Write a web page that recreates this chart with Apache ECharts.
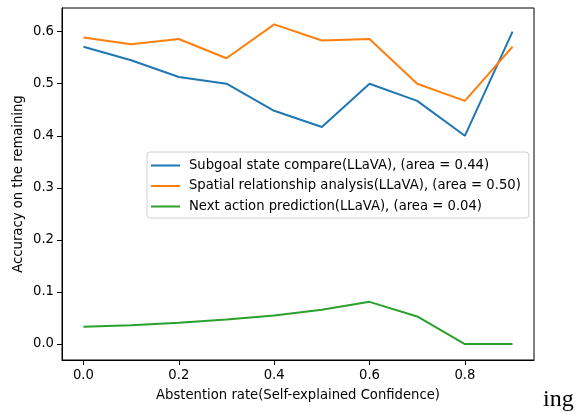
<!DOCTYPE html>
<html><head><meta charset="utf-8">
<script src="https://cdn.jsdelivr.net/npm/echarts@6/dist/echarts.min.js"></script>
<style>html,body{margin:0;padding:0;background:#fff}#c{width:582px;height:412px}</style>
</head><body><div id="c"></div>
<script>
const xValues = [0.0, 0.1, 0.2, 0.3, 0.4, 0.5, 0.6, 0.7, 0.8, 0.9];
const subgoal = [0.571, 0.545, 0.513, 0.500, 0.448, 0.417, 0.500, 0.467, 0.400, 0.600];
const spatial = [0.589, 0.576, 0.586, 0.549, 0.614, 0.583, 0.586, 0.500, 0.467, 0.571];
const nextAction = [0.033, 0.036, 0.041, 0.047, 0.055, 0.066, 0.081, 0.053, 0.000, 0.000];
const xTicks = [0.0, 0.2, 0.4, 0.6, 0.8];
const yTicks = [0.0, 0.1, 0.2, 0.3, 0.4, 0.5, 0.6];
const seriesNames = [
  'Subgoal state compare(LLaVA), (area = 0.44)',
  'Spatial relationship analysis(LLaVA), (area = 0.50)',
  'Next action prediction(LLaVA), (area = 0.04)'
];
const colors = ['#1f77b4', '#ff7f0e', '#2ca02c'];
const FONT = 'DejaVu Sans';
const FS = 13.2;

function pairs(ys) { return xValues.map((x, i) => [x, ys[i]]); }

const chart = echarts.init(document.getElementById('c'), null, {renderer: 'canvas'});
chart.setOption({
  animation: false,
  backgroundColor: '#fff',
  color: colors,
  grid: {left: 62, right: 48, top: 8, bottom: 52, show: true, borderColor: '#000', borderWidth: 1, backgroundColor: 'transparent'},
  xAxis: {
    type: 'value', min: -0.045, max: 0.945,
    name: 'Abstention rate(Self-explained Confidence)', nameLocation: 'middle', nameGap: 29,
    nameTextStyle: {fontFamily: FONT, fontSize: FS, color: '#000'},
    axisLine: {show: true, onZero: false, lineStyle: {color: '#000', width: 1}},
    axisTick: {show: true, inside: false, length: 5, lineStyle: {color: '#000'}, customValues: xTicks},
    axisLabel: {fontFamily: FONT, fontSize: FS, color: '#000', margin: 9, customValues: xTicks, formatter: v => v.toFixed(1)},
    splitLine: {show: false}
  },
  yAxis: {
    type: 'value', min: -0.0307, max: 0.6455,
    name: 'Accuracy on the remaining', nameLocation: 'middle', nameGap: 37, nameRotate: 90,
    nameMoveOverlap: false,
    nameTextStyle: {fontFamily: FONT, fontSize: FS, color: '#000'},
    axisLine: {show: true, onZero: false, lineStyle: {color: '#000', width: 1}},
    axisTick: {show: true, inside: false, length: 5, lineStyle: {color: '#000'}, customValues: yTicks},
    axisLabel: {fontFamily: FONT, fontSize: FS, color: '#000', margin: 8, customValues: yTicks, formatter: v => v.toFixed(1)},
    splitLine: {show: false}
  },
  legend: {
    orient: 'vertical', left: 147, top: 152,
    padding: [7, 8, 5, 4], itemGap: 7.5,
    backgroundColor: '#fff', borderColor: '#d0d0d0', borderWidth: 1, borderRadius: 3,
    icon: 'rect', itemWidth: 29, itemHeight: 2,
    textStyle: {fontFamily: FONT, fontSize: FS, color: '#000', padding: [0, 0, 0, 4]},
    data: seriesNames
  },
  series: [
    {name: seriesNames[0], type: 'line', data: pairs(subgoal), symbol: 'none', lineStyle: {width: 2, color: colors[0]}, itemStyle: {color: colors[0]}},
    {name: seriesNames[1], type: 'line', data: pairs(spatial), symbol: 'none', lineStyle: {width: 2, color: colors[1]}, itemStyle: {color: colors[1]}},
    {name: seriesNames[2], type: 'line', data: pairs(nextAction), symbol: 'none', lineStyle: {width: 2, color: colors[2]}, itemStyle: {color: colors[2]}}
  ],
  graphic: [{
    type: 'text', left: 543, top: 388,
    style: {text: 'ing', fontFamily: 'Liberation Serif', fontSize: 24, fill: '#000'}
  }]
});
</script></body></html>
